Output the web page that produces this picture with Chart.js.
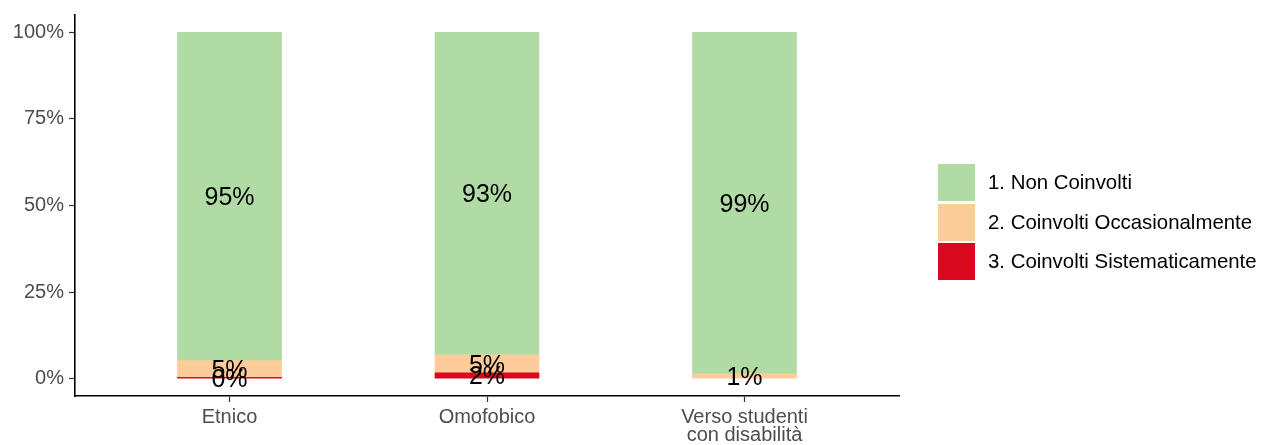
<!DOCTYPE html>
<html>
<head>
<meta charset="utf-8">
<script src="https://cdn.jsdelivr.net/npm/chart.js@4/dist/chart.umd.min.js"></script>
<style>
  html, body { margin: 0; padding: 0; background: #fff; }
  #wrap { position: relative; width: 1262px; height: 445px; }
  canvas { position: absolute; left: 0; top: 0; }
  #legend { position: absolute; left: 938px; top: 164px; font-family: "Liberation Sans", Arial, sans-serif; font-size: 20.4px; color: #000; }
  .item { display: flex; align-items: center; height: 37px; margin-bottom: 2.5px; }
  .key { width: 37px; height: 37px; margin-right: 13px; }
</style>
</head>
<body>
<div id="wrap">
  <canvas id="c" width="1262" height="445"></canvas>
  <div id="legend"></div>
</div>
<script>
const categories = ["Etnico", "Omofobico", ["Verso studenti", "con disabilità"]];
const seriesNames = ["1. Non Coinvolti", "2. Coinvolti Occasionalmente", "3. Coinvolti Sistematicamente"];
const nonCoinvolti = [94.8, 93.1, 98.6];
const occasionalmente = [4.8, 5.2, 1.4];
const sistematicamente = [0.4, 1.7, null];
const yTicks = [0, 25, 50, 75, 100];
const colors = ["#b0dba5", "#fccc9b", "#d8081f"];

const seriesValues = [nonCoinvolti, occasionalmente, sistematicamente];
const xPos = categories.map((_, i) => i + 1);

// Stack from bottom: sistematicamente, occasionalmente, non coinvolti
const order = [2, 1, 0];
const datasets = order.map(k => ({
  label: seriesNames[k],
  data: seriesValues[k].map((v, i) => ({ x: xPos[i], y: v })),
  backgroundColor: colors[k],
  borderWidth: 0,
  barThickness: 104
}));

const labelPlugin = {
  id: 'segLabels',
  afterDatasetsDraw(chart) {
    const ctx = chart.ctx;
    ctx.save();
    ctx.font = '25px "Liberation Sans", Arial, sans-serif';
    ctx.fillStyle = '#000';
    ctx.textAlign = 'center';
    ctx.textBaseline = 'middle';
    chart.data.datasets.forEach((ds, di) => {
      const meta = chart.getDatasetMeta(di);
      meta.data.forEach((el, i) => {
        const v = ds.data[i].y;
        if (v === null || v === undefined) return;
        const yc = (el.y + el.base) / 2;
        ctx.fillText(Math.round(v) + '%', el.x, yc + 2);
      });
    });
    ctx.restore();
  }
};

new Chart(document.getElementById('c'), {
  type: 'bar',
  data: { datasets },
  options: {
    responsive: false,
    animation: false,
    events: [],
    layout: { padding: { top: 12.6, right: 363, left: 0, bottom: 0 } },
    plugins: { legend: { display: false }, tooltip: { enabled: false } },
    scales: {
      x: {
        type: 'linear',
        stacked: true,
        offset: false,
        min: 0.4,
        max: 3.6,
        afterBuildTicks: s => { s.ticks = xPos.map(v => ({ value: v })); },
        afterFit: s => { s.height = 49; },
        ticks: {
          callback: (v) => categories[Math.round(v) - 1],
          font: { family: '"Liberation Sans", Arial, sans-serif', size: 20, lineHeight: 0.9 },
          color: '#4d4d4d',
          padding: 6,
          maxRotation: 0,
          autoSkip: false
        },
        grid: { offset: false, drawOnChartArea: false, drawTicks: true, tickLength: 6, color: '#333333', tickWidth: 1.2 },
        border: { display: true, color: '#000', width: 1.6 }
      },
      y: {
        stacked: true,
        min: -5,
        max: 105,
        afterBuildTicks: s => { s.ticks = yTicks.map(v => ({ value: v })); },
        afterFit: s => { s.width = 75; },
        ticks: {
          callback: (v) => v + '%',
          font: { family: '"Liberation Sans", Arial, sans-serif', size: 20, lineHeight: 1 },
          color: '#4d4d4d',
          padding: 5
        },
        grid: { drawOnChartArea: false, drawTicks: true, tickLength: 6, color: '#333333', tickWidth: 1.2 },
        border: { display: true, color: '#000', width: 1.6 }
      }
    }
  },
  plugins: [labelPlugin]
});

const legend = document.getElementById('legend');
seriesNames.forEach((name, k) => {
  const item = document.createElement('div');
  item.className = 'item';
  const key = document.createElement('div');
  key.className = 'key';
  key.style.background = colors[k];
  const txt = document.createElement('span');
  txt.textContent = name;
  item.appendChild(key);
  item.appendChild(txt);
  legend.appendChild(item);
});
</script>
</body>
</html>
